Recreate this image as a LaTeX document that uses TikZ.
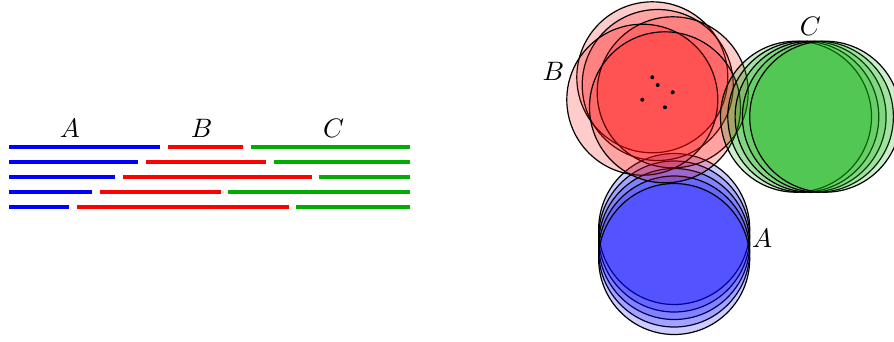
\documentclass[tikz,border=0pt]{standalone}
\begin{document}
\begin{tikzpicture}[x=0.375pt,y=-0.375pt,
  seg/.style={line width=1.2pt},
  blob/.style={draw=black,line width=0.45pt,fill opacity=0.2},
  cdot/.style={fill=black},
  lbl/.style={inner sep=0pt}]
\definecolor{cA}{RGB}{0,0,255}
\definecolor{cB}{RGB}{255,0,0}
\definecolor{cC}{RGB}{0,172,0}
\useasboundingbox (0,0) rectangle (894,341);
% left: segments
\foreach \y/\a/\b/\c/\d in {147/160/168.3/243.3/251, 162/137.7/145.7/266/273.7, 177/115/122.7/311.7/319, 192/92/100/221/228.3, 207/69.3/77.3/288.7/296.3}{
  \draw[seg,cA] (9.3,\y) -- (\a,\y);
  \draw[seg,cB] (\b,\y) -- (\c,\y);
  \draw[seg,cC] (\d,\y) -- (410,\y);
}
\node[lbl] (lA) at (70,128) {$A$};
\node[lbl] (lB) at (201.7,128) {$B$};
\node[lbl] (lC) at (333.7,128) {$C$};
% right: circles
\foreach \cy in {229,236.5,244,251.5,259}{
  \path[blob,fill=cA] (674.2,\cy) circle[radius=28.3125pt];
}
\foreach \cx/\cy in {652.3/77.3, 657.7/85, 672.7/92.3, 642.3/99.7, 665/107.3}{
  \path[blob,fill=cB] (\cx,\cy) circle[radius=28.3125pt];
}
\foreach \cx in {796,803.3,810.6,817.9,825.2}{
  \path[blob,fill=cC] (\cx,116.7) circle[radius=28.3125pt];
}
\foreach \cx/\cy in {652.3/77.3, 657.7/85, 672.7/92.3, 642.3/99.7, 665/107.3}{
  \fill[cdot] (\cx,\cy) circle[radius=0.75pt];
}
\node[lbl] (rA) at (762,238) {$A$};
\node[lbl] (rB) at (553.5,71) {$B$};
\node[lbl] (rC) at (810.3,26) {$C$};
\end{tikzpicture}
\end{document}
